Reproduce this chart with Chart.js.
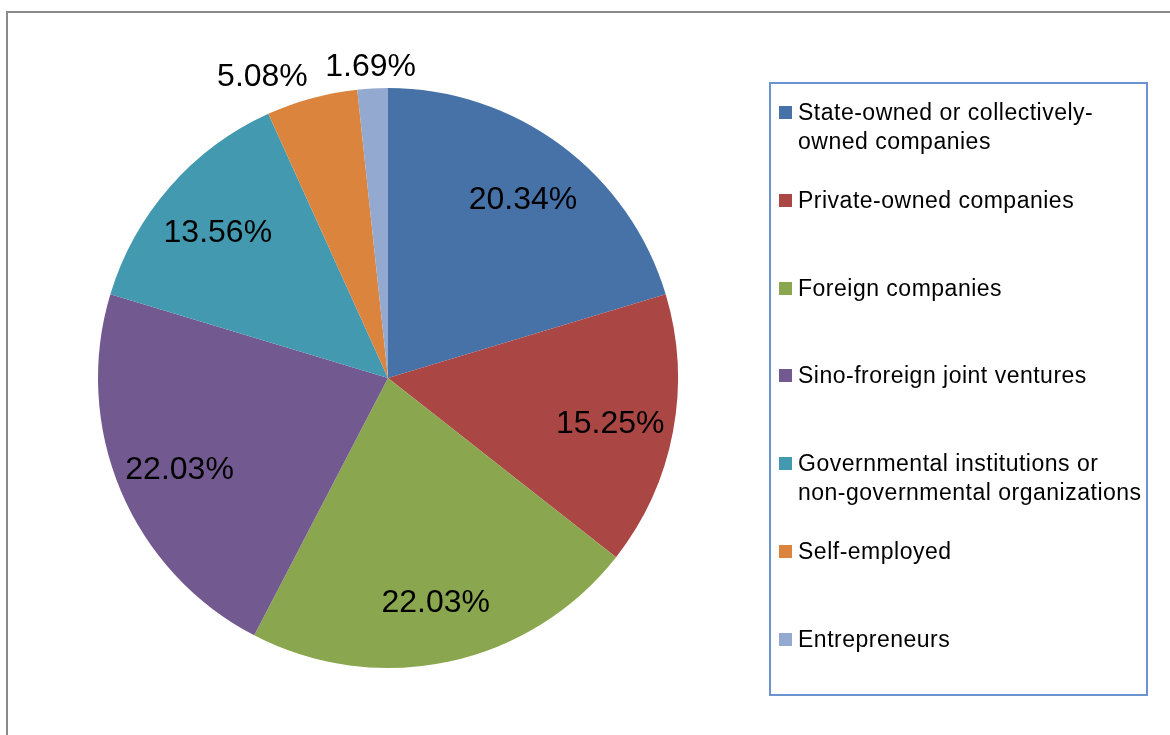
<!DOCTYPE html>
<html lang="en">
<head>
  <meta charset="UTF-8">
  <title>Employer types</title>
  <script src="https://cdn.jsdelivr.net/npm/chart.js"></script>
  <style>
    html, body { margin: 0; padding: 0; background: #fff; overflow: hidden; }
    body { width: 1170px; height: 735px; position: relative; font-family: "Liberation Sans", Arial, sans-serif; }
    #frame { position: absolute; left: 6px; top: 11px; width: 1200px; height: 800px; border: 2px solid #8a8a8a; }
    #pie { position: absolute; left: 0; top: 0; }
    #legend { position: absolute; left: 769px; top: 82px; width: 375px; height: 610px; border: 2px solid #6b93cf; }
    .item { position: absolute; left: 8px; font-size: 23px; line-height: 29px; letter-spacing: 0.5px; color: #000; }
    .item .box { position: absolute; left: 0; top: 8px; width: 13px; height: 13px; }
    .item .txt { margin-left: 19px; white-space: nowrap; }
  </style>
</head>
<body>
  <div id="frame"></div>
  <canvas id="pie" width="1170" height="735"></canvas>
  <div id="legend"></div>
  <script>
    const categories = [
      ['State-owned or collectively-', 'owned companies'],
      ['Private-owned companies'],
      ['Foreign companies'],
      ['Sino-froreign joint ventures'],
      ['Governmental institutions or', 'non-governmental organizations'],
      ['Self-employed'],
      ['Entrepreneurs']
    ];
    const shares = [20.34, 15.25, 22.03, 22.03, 13.56, 5.08, 1.69];
    const colors = ['#4672a8', '#aa4644', '#8aa64f', '#72598f', '#4399af', '#db843d', '#93a9cf'];

    // legend built by hand: each entry gets a fixed slot, extra lines spill down
    const legend = document.getElementById('legend');
    categories.forEach((lines, i) => {
      const div = document.createElement('div');
      div.className = 'item';
      div.style.top = (14 + i * 87.8) + 'px';
      const box = document.createElement('span');
      box.className = 'box';
      box.style.background = colors[i];
      div.appendChild(box);
      lines.forEach(line => {
        const t = document.createElement('div');
        t.className = 'txt';
        t.textContent = line;
        div.appendChild(t);
      });
      legend.appendChild(div);
    });

    const FONT = '32px "Liberation Sans", Arial, sans-serif';

    // percentage labels: inside big slices, above the rim for small ones
    const sliceLabels = {
      id: 'sliceLabels',
      afterDatasetsDraw(chart) {
        const ctx = chart.ctx;
        const meta = chart.getDatasetMeta(0);
        ctx.save();
        ctx.font = FONT;
        ctx.fillStyle = '#000';
        meta.data.forEach((arc, i) => {
          const p = arc.getProps(['x', 'y', 'startAngle', 'endAngle', 'outerRadius'], true);
          const mid = (p.startAngle + p.endAngle) / 2;
          const text = shares[i].toFixed(2) + '%';
          const cx = Math.cos(mid), cy = Math.sin(mid);
          ctx.textBaseline = 'middle';
          if (shares[i] >= 6) {
            const d = p.outerRadius * 0.78;
            ctx.textAlign = 'center';
            ctx.fillText(text, p.x + cx * d, p.y + cy * d + 4);
          } else {
            const ex = p.x + cx * p.outerRadius;
            const ey = p.y + cy * p.outerRadius;
            if (Math.abs(cx) < 0.15) {
              ctx.textAlign = 'center';
              ctx.fillText(text, ex - 2, ey - 21);
            } else if (cx < 0) {
              ctx.textAlign = 'right';
              ctx.fillText(text, ex - 4, ey - 21);
            } else {
              ctx.textAlign = 'left';
              ctx.fillText(text, ex + 4, ey - 21);
            }
          }
        });
        ctx.restore();
      }
    };

    new Chart(document.getElementById('pie'), {
      type: 'pie',
      data: {
        labels: categories.map(l => l.join(' ')),
        datasets: [{ data: shares, backgroundColor: colors, borderWidth: 0 }]
      },
      options: {
        responsive: false,
        animation: false,
        devicePixelRatio: 1,
        layout: { padding: { left: 98, top: 88, right: 492, bottom: 67 } },
        plugins: { legend: { display: false }, tooltip: { enabled: false } }
      },
      plugins: [sliceLabels]
    });
  </script>
</body>
</html>
